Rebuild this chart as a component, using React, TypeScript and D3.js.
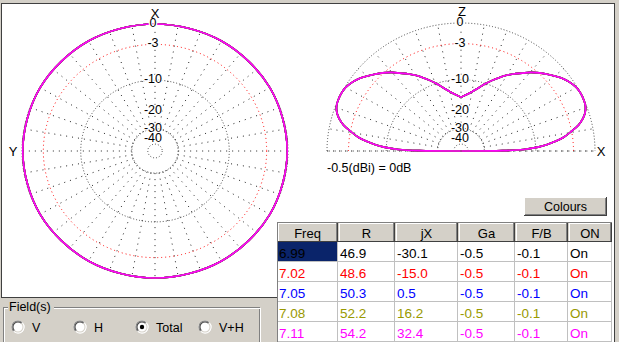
import React from 'react';
import * as d3 from 'd3';

// ---------- data ----------
const frequencies = ['6.99', '7.02', '7.05', '7.08', '7.11'];
const rValues = ['46.9', '48.6', '50.3', '52.2', '54.2'];
const jxValues = ['-30.1', '-15.0', '0.5', '16.2', '32.4'];
const gaValues = ['-0.5', '-0.5', '-0.5', '-0.5', '-0.5'];
const fbValues = ['-0.1', '-0.1', '-0.1', '-0.1', '-0.1'];
const onValues = ['On', 'On', 'On', 'On', 'On'];
const seriesColors = ['#000000', '#ff0000', '#0000ff', '#999900', '#ff00ff'];
const tableHeaders = ['Freq', 'R', 'jX', 'Ga', 'F/B', 'ON'];
const fieldOptions = ['V', 'H', 'Total', 'V+H'];
const selectedField = 'Total';

const ringDb = [0, -3, -10, -30, -50];
const ringLabelDb = [0, -3, -10, -20, -30, -40];
const spokeStepDeg = 10;

// elevation pattern (right half, degrees above horizon -> dB rel. max)
const elevAngles = [0, 0.5, 1.5, 3, 4.5, 6, 8, 10.4, 13, 15.5, 18, 21, 24, 27, 30, 33.8, 36.5, 39.6, 43, 46.3, 50, 53.1, 57, 60.6, 64, 67.1, 71, 75, 79, 82.6, 86, 90];
const elevDb = [-99, -20, -13, -9.5, -7.5, -6, -4.4, -3.1, -1.8, -1.0, -0.45, -0.1, 0, 0, -0.1, -0.5, -0.9, -1.5, -2.2, -2.9, -3.8, -4.7, -5.7, -6.7, -7.8, -8.8, -10.1, -11.5, -12.7, -13.6, -14.2, -14.8];

// azimuth pattern (degrees from X axis -> dB)
const azAngles = [0, 30, 60, 90, 120, 150, 180, 210, 240, 270, 300, 330];
const azDb = [0, 0, -0.05, -0.1, -0.05, 0, 0, 0, -0.05, -0.1, -0.05, 0];

// ---------- helpers ----------
const gainToR = (db: number) => Math.pow(0.89, -db / 2);
const FONT = 'Arial, "Liberation Sans", sans-serif';
const GRAY = '#d4d0c8';

const LEFT = { cx: 155, cy: 151, rx: 133, ry: 127 };
const RIGHT = { cx: 461, cy: 151, rx: 134, ry: 128 };

function scalesFor(p: { cx: number; cy: number; rx: number; ry: number }) {
  const xs = d3.scaleLinear().domain([-1, 1]).range([p.cx - p.rx, p.cx + p.rx]);
  const ys = d3.scaleLinear().domain([-1, 1]).range([p.cy + p.ry, p.cy - p.ry]);
  return { xs, ys };
}

function labelText(key: string, x: number, y: number, txt: string) {
  return (
    <text key={key} x={x} y={y} textAnchor="middle" fontFamily={FONT} fontSize={12.5}
      fill="#000" stroke="#fff" strokeWidth={2.5} paintOrder="stroke">{txt}</text>
  );
}

function AzimuthPlot() {
  const { xs, ys } = scalesFor(LEFT);
  const r0 = gainToR(-30);
  const spokes = d3.range(0, 360, spokeStepDeg);
  const line = d3.line<[number, number]>()
    .x(d => xs(gainToR(d[1]) * Math.sin(d[0] * Math.PI / 180)))
    .y(d => ys(gainToR(d[1]) * Math.cos(d[0] * Math.PI / 180)))
    .curve(d3.curveCatmullRomClosed.alpha(0.5));
  const pts: [number, number][] = azAngles.map((a, i) => [a, azDb[i]]);
  return (
    <g>
      {spokes.map(a => {
        const t = a * Math.PI / 180;
        return <line key={'s' + a} x1={xs(r0 * Math.sin(t))} y1={ys(r0 * Math.cos(t))}
          x2={xs(Math.sin(t))} y2={ys(Math.cos(t))} stroke="#222" strokeWidth={1} strokeDasharray="1 5" />;
      })}
      {ringDb.map(db => (
        <ellipse key={'r' + db} cx={xs(0)} cy={ys(0)} rx={xs(gainToR(db)) - xs(0)} ry={ys(0) - ys(gainToR(db))}
          fill="none" stroke={db === -3 ? '#ff0000' : '#444'} strokeWidth={1} strokeDasharray={db === -3 ? '1 3' : '1 2'} />
      ))}
      {seriesColors.map((c, i) => (
        <path key={'c' + i} d={line(pts) || ''} fill="none" stroke={c} strokeWidth={1.6} />
      ))}
      {ringLabelDb.map(db => labelText('l' + db, xs(0) - 2, ys(gainToR(db)) + 3, String(db)))}
      <text x={xs(0)} y={18} textAnchor="middle" fontFamily={FONT} fontSize={13} fill="#000">X</text>
      <text x={13} y={ys(0) + 5} textAnchor="middle" fontFamily={FONT} fontSize={13} fill="#000">Y</text>
    </g>
  );
}

function ElevationPlot() {
  const { xs, ys } = scalesFor(RIGHT);
  const r0 = gainToR(-30);
  const spokes = d3.range(0, 181, spokeStepDeg);
  const pts: [number, number][] = [];
  elevAngles.forEach((a, i) => pts.push([a, elevDb[i]]));
  for (let i = elevAngles.length - 2; i >= 0; i--) pts.push([180 - elevAngles[i], elevDb[i]]);
  const line = d3.line<[number, number]>()
    .x(d => xs(gainToR(d[1]) * Math.cos(d[0] * Math.PI / 180)))
    .y(d => ys(gainToR(d[1]) * Math.sin(d[0] * Math.PI / 180)))
    .curve(d3.curveCatmullRom.alpha(0.5));
  const arc = (r: number) =>
    `M${xs(-r)},${ys(0)} A${xs(r) - xs(0)},${ys(0) - ys(r)} 0 0 1 ${xs(r)},${ys(0)}`;
  return (
    <g>
      <line x1={xs(-1)} y1={ys(0)} x2={xs(1)} y2={ys(0)} stroke="#222" strokeDasharray="1 5" />
      {spokes.map(a => {
        const t = a * Math.PI / 180;
        return <line key={'s' + a} x1={xs(r0 * Math.cos(t))} y1={ys(r0 * Math.sin(t))}
          x2={xs(Math.cos(t))} y2={ys(Math.sin(t))} stroke="#222" strokeWidth={1} strokeDasharray="1 5" />;
      })}
      {ringDb.map(db => (
        <path key={'r' + db} d={arc(gainToR(db))} fill="none" stroke={db === -3 ? '#ff0000' : '#444'}
          strokeWidth={1} strokeDasharray={db === -3 ? '1 3' : '1 2'} />
      ))}
      {seriesColors.map((c, i) => (
        <path key={'c' + i} d={line(pts) || ''} fill="none" stroke={c} strokeWidth={1.6} />
      ))}
      {ringLabelDb.map(db => labelText('l' + db, xs(0) - 1, ys(gainToR(db)) + 3, String(db)))}
      <text x={xs(0) + 1} y={16} textAnchor="middle" fontFamily={FONT} fontSize={13} fill="#000">Z</text>
      <text x={601} y={ys(0) + 5} textAnchor="middle" fontFamily={FONT} fontSize={13} fill="#000">X</text>
      <text x={327} y={171.5} fontFamily={FONT} fontSize={12.5} fill="#000">{`${gaValues[0]}(dBi) = 0dB`}</text>
    </g>
  );
}

const colEdges = [277, 338, 395, 458, 515, 568, 612];
const headerTop = 222;
const rowH = 20;

function DataTable() {
  const cols = [frequencies, rValues, jxValues, gaValues, fbValues, onValues];
  const bodyTop = headerTop + rowH;
  return (
    <g fontFamily={FONT}>
      <rect x={colEdges[0]} y={headerTop} width={colEdges[6] - colEdges[0]} height={342 - headerTop} fill="#fff" />
      {tableHeaders.map((h, j) => {
        const x0 = colEdges[j], x1 = colEdges[j + 1];
        return (
          <g key={'h' + j}>
            <rect x={x0} y={headerTop} width={x1 - x0} height={rowH} fill={GRAY} />
            <line x1={x0 + 1} y1={headerTop + 1.5} x2={x1 - 1} y2={headerTop + 1.5} stroke="#fff" />
            <line x1={x0 + 1.5} y1={headerTop + 1} x2={x0 + 1.5} y2={headerTop + rowH - 1} stroke="#fff" />
            <line x1={x1 - 1.5} y1={headerTop + 1} x2={x1 - 1.5} y2={headerTop + rowH - 1} stroke="#808080" />
            <line x1={x0} y1={headerTop + rowH - 0.5} x2={x1} y2={headerTop + rowH - 0.5} stroke="#404040" />
            <line x1={x1 - 0.5} y1={headerTop} x2={x1 - 0.5} y2={headerTop + rowH} stroke="#404040" />
            <text x={(x0 + x1) / 2} y={headerTop + 15.5} textAnchor="middle" fontSize={13} fill="#000">{h}</text>
          </g>
        );
      })}
      <line x1={colEdges[0]} y1={headerTop + 0.5} x2={colEdges[6]} y2={headerTop + 0.5} stroke="#808080" />
      {frequencies.map((_, i) => {
        const y0 = bodyTop + i * rowH;
        return (
          <g key={'row' + i}>
            {cols.map((col, j) => {
              const x0 = colEdges[j], x1 = colEdges[j + 1];
              const sel = i === 0 && j === 0;
              return (
                <g key={'c' + j}>
                  {sel && <rect x={x0} y={y0} width={x1 - x0 - 1} height={rowH - 1} fill="#0a246a" />}
                  <line x1={x1 - 0.5} y1={y0} x2={x1 - 0.5} y2={y0 + rowH} stroke="#c0c0c0" />
                  <line x1={x0} y1={y0 + rowH - 0.5} x2={x1} y2={y0 + rowH - 0.5} stroke="#c0c0c0" />
                  <text x={x0 + 2} y={y0 + 15.5} fontSize={13.5} fill={sel ? '#000' : seriesColors[i]}>{col[i]}</text>
                </g>
              );
            })}
          </g>
        );
      })}
      <line x1={colEdges[0] + 0.5} y1={headerTop} x2={colEdges[0] + 0.5} y2={342} stroke="#808080" />
    </g>
  );
}

function RadioButton({ cx, cy, checked }: { cx: number; cy: number; checked: boolean }) {
  const a = d3.arc<any>();
  const half = (r0: number, r1: number, start: number) =>
    a({ innerRadius: r0, outerRadius: r1, startAngle: start, endAngle: start + Math.PI }) || '';
  const tl = -3 * Math.PI / 4;
  return (
    <g transform={`translate(${cx},${cy})`}>
      <circle r={6.5} fill="#fff" />
      <path d={half(5.5, 6.5, tl)} fill="#808080" />
      <path d={half(5.5, 6.5, tl + Math.PI)} fill="#fff" />
      <path d={half(4.5, 5.5, tl)} fill="#404040" />
      <path d={half(4.5, 5.5, tl + Math.PI)} fill={GRAY} />
      {checked && <circle r={2.2} fill="#000" />}
    </g>
  );
}

function FieldGroup() {
  const xs = [18, 80, 142, 205];
  return (
    <g fontFamily={FONT}>
      <rect x={3.5} y={307.5} width={256} height={60} fill="none" stroke="#808080" />
      <rect x={4.5} y={308.5} width={256} height={60} fill="none" stroke="#fff" />
      <rect x={8} y={300} width={46} height={14} fill={GRAY} />
      <text x={9} y={311} fontSize={12.5} fill="#000">Field(s)</text>
      {fieldOptions.map((f, i) => (
        <g key={f}>
          <RadioButton cx={xs[i]} cy={327} checked={f === selectedField} />
          <text x={xs[i] + 14} y={332} fontSize={12.5} fill="#000">{f}</text>
        </g>
      ))}
    </g>
  );
}

export default function App() {
  return (
    <div style={{ position: 'absolute', left: 0, top: 0 }}>
      <svg width={619} height={342} style={{ display: 'block' }}>
        <rect x={0} y={0} width={619} height={342} fill={GRAY} />
        <rect x={2} y={4} width={612} height={293} fill="#fff" />
        <rect x={277} y={297} width={337} height={45} fill="#fff" />
        <line x1={1} y1={3.5} x2={615} y2={3.5} stroke="#404040" />
        <line x1={1.5} y1={3} x2={1.5} y2={298} stroke="#404040" />
        <line x1={1} y1={297.5} x2={277} y2={297.5} stroke="#404040" />
        <line x1={614.5} y1={3} x2={614.5} y2={342} stroke="#404040" />
        <AzimuthPlot />
        <ElevationPlot />
        <g fontFamily={FONT}>
          <rect x={524} y={197} width={83} height={19} fill={GRAY} />
          <line x1={524} y1={197.5} x2={607} y2={197.5} stroke="#fff" />
          <line x1={524.5} y1={197} x2={524.5} y2={216} stroke="#fff" />
          <line x1={524} y1={215.5} x2={607} y2={215.5} stroke="#404040" />
          <line x1={606.5} y1={197} x2={606.5} y2={216} stroke="#404040" />
          <line x1={525} y1={214.5} x2={606} y2={214.5} stroke="#808080" />
          <line x1={605.5} y1={198} x2={605.5} y2={215} stroke="#808080" />
          <text x={565.5} y={211} textAnchor="middle" fontSize={12.5} fill="#000">Colours</text>
        </g>
        <DataTable />
        <FieldGroup />
      </svg>
    </div>
  );
}
